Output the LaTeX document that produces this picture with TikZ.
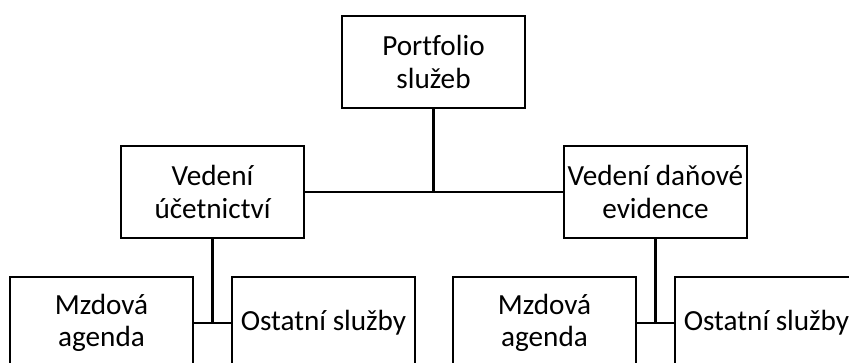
\documentclass[tikz,border=0pt]{standalone}
\usepackage{fontspec}
\setmainfont{Carlito}[Ligatures=NoCommon]

\begin{document}
\begin{tikzpicture}[x=0.75pt, y=-0.75pt, line width=1.6pt,
  box/.style={draw, black, line width=1.6pt, minimum width=137.25pt, minimum height=69pt, inner sep=0pt, align=center, font=\fontsize{21.9}{24.5}\selectfont}]

\useasboundingbox (0,0) rectangle (849,362);
\clip (0,0) rectangle (849,362);

\node[box] (port) at (433.5,62) {Portfolio\\služeb};

\node[box] (ucet) at (212.5,192) {Vedení\\účetnictví};
\node[box] (dan) at (655.5,192) {Vedení daňové\\evidence};

\node[box] (mzdaA) at (101.5,323) {Mzdová\\agenda};
\node[box] (ostA) at (323.5,323) {Ostatní služby};
\node[box] (mzdaB) at (544.5,323) {Mzdová\\agenda};
\node[box] (ostB) at (766.5,323) {Ostatní služby};

\draw (ucet.east) -- (dan.west);
\draw (port.south) -- (port.south |- ucet.east);

\draw (mzdaA.east) -- (ostA.west);
\draw (ucet.south) -- (ucet.south |- mzdaA.east);

\draw (mzdaB.east) -- (ostB.west);
\draw (dan.south) -- (dan.south |- mzdaB.east);

\end{tikzpicture}
\end{document}
